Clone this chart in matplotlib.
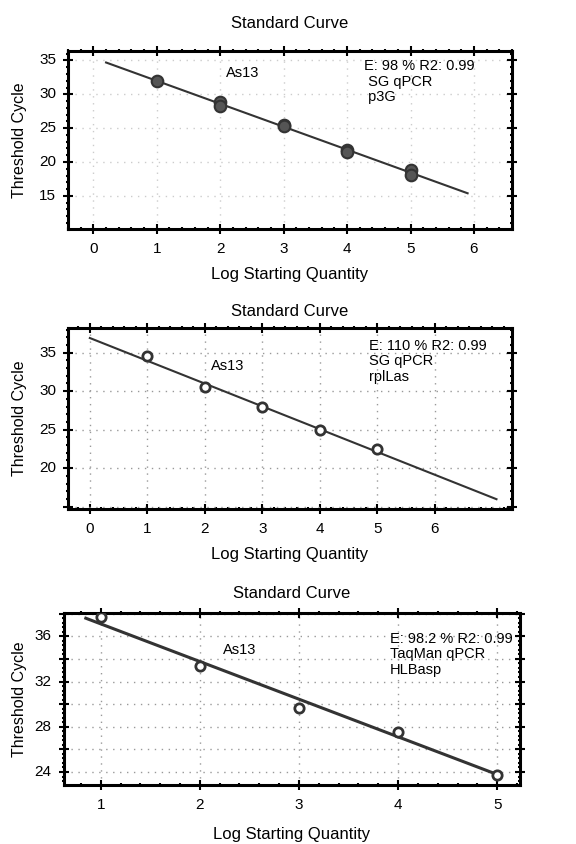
import matplotlib
matplotlib.use('Agg')
import matplotlib.pyplot as plt
from matplotlib.ticker import AutoMinorLocator, MultipleLocator
import numpy as np

plt.rcParams['font.family'] = ['Liberation Sans', 'DejaVu Sans']

# panel 1: p3G, SG qPCR
x1 = [1, 2, 2, 3, 3, 4, 4, 5, 5]
y1 = [31.9, 28.8, 28.3, 25.5, 25.3, 21.8, 21.5, 18.8, 18.1]
fit1 = (-3.39, 35.38)
span1 = (0.2, 5.9)

# panel 2: rplLas, SG qPCR
x2 = [1, 2, 3, 4, 5]
y2 = [34.5, 30.6, 28.0, 25.0, 22.5]
fit2 = (-2.96, 36.9)
span2 = (0.0, 7.07)

# panel 3: HLBasp, TaqMan qPCR
x3 = [1, 2, 3, 4, 5]
y3 = [37.7, 33.4, 29.7, 27.5, 23.7]
fit3 = (-3.33, 40.43)
span3 = (0.85, 5.0)

notes1 = ['E: 98 % R2: 0.99', ' SG qPCR', ' p3G']
notes2 = ['E: 110 % R2: 0.99', 'SG qPCR', 'rplLas']
notes3 = ['E: 98.2 % R2: 0.99', 'TaqMan qPCR', 'HLBasp']

W, H = 576, 844
fig = plt.figure(figsize=(W / 100, H / 100), dpi=100)


def box(l, t, r, b):
    return [l / W, 1 - b / H, (r - l) / W, (b - t) / H]


def panel(rect, xs, ys, fit, span, xlim, ylim, xticks, yticks, ystep,
          notes, note_xy, as_xy, filled, title_y, xlabel_y, gridc, lw):
    ax = fig.add_axes(box(*rect))
    ax.set_xlim(*xlim)
    ax.set_ylim(*ylim)
    ax.set_xticks(xticks)
    ax.yaxis.set_major_locator(MultipleLocator(ystep))
    ax.xaxis.set_minor_locator(AutoMinorLocator(5))
    ax.yaxis.set_minor_locator(AutoMinorLocator(5))
    ax.tick_params(which='major', direction='inout', length=7, width=1.5,
                   top=True, right=True, labelsize=11, pad=6)
    ax.tick_params(which='minor', direction='inout', length=3, width=1.5,
                   top=True, right=True)
    for s in ax.spines.values():
        s.set_linewidth(2.2)
    ax.grid(True, which='major', linestyle=(0, (1, 4)), color=gridc, linewidth=1)
    # y labels only on chosen ticks
    for v in yticks:
        ax.text(-0.027, (v - ylim[0]) / (ylim[1] - ylim[0]), str(v),
                transform=ax.transAxes, ha='right', va='center', fontsize=11)
    ax.set_yticks(np.arange(np.ceil(ylim[0] / ystep) * ystep, ylim[1], ystep))
    ax.set_yticklabels([])

    xx = np.array(span)
    ax.plot(xx, fit[0] * xx + fit[1], color='#333333', linewidth=lw, zorder=3)
    if filled:
        ax.scatter(xs, ys, s=70, facecolor='#555555', edgecolor='#333333',
                   linewidth=1.5, zorder=4)
    else:
        ax.scatter(xs, ys, s=45, facecolor='white', edgecolor='#333333',
                   linewidth=2, zorder=4)

    ax.text(as_xy[0], as_xy[1], 'As13', fontsize=10.5, ha='center', va='center')
    ax.text(note_xy[0], note_xy[1], '\n'.join(notes), fontsize=10.5,
            ha='left', va='top', linespacing=1.15)

    cx = (rect[0] + rect[2]) / 2 / W
    fig.text(cx, 1 - title_y / H, 'Standard Curve', ha='center',
             va='center', fontsize=12)
    fig.text(cx, 1 - xlabel_y / H, 'Log Starting Quantity', ha='center',
             va='center', fontsize=12)
    fig.text(20 / W, 1 - ((rect[1] + rect[3]) / 2) / H, 'Threshold Cycle',
             rotation=90, ha='center', va='center', fontsize=11.5)
    return ax


panel((68, 51, 512, 229), x1, y1, fit1, span1, (-0.4, 6.6), (10.1, 36.4),
      [0, 1, 2, 3, 4, 5, 6], [15, 20, 25, 30, 35], 5,
      notes1, (4.26, 35.2), (2.36, 33.2), True, 24, 275, '#cccccc', 1.5)

panel((68, 328, 512, 509), x2, y2, fit2, span2, (-0.38, 7.34), (14.7, 38.2),
      [0, 1, 2, 3, 4, 5, 6], [20, 25, 30, 35], 5,
      notes2, (4.85, 36.8), (2.4, 33.3), False, 311, 555, '#999999', 1.5)

panel((64, 613, 520, 785), x3, y3, fit3, span3, (0.63, 5.23), (22.85, 38.06),
      [1, 2, 3, 4, 5], [24, 28, 32, 36], 2,
      notes3, (3.92, 36.4), (2.4, 34.75), False, 593, 835, '#999999', 2.2)

fig.savefig('out.png', dpi=100)
